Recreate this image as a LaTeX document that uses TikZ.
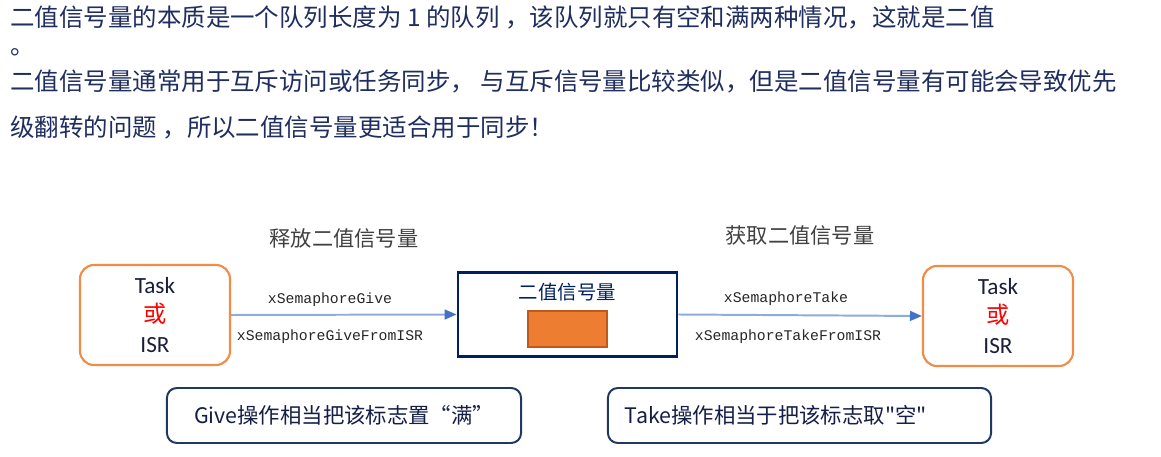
\documentclass[tikz,border=0pt]{standalone}
\usepackage{fontspec}
\setmainfont{Noto Sans CJK SC}
\newfontfamily\notefont{Noto Sans CJK SC}
\newfontfamily\apifont{Liberation Mono}
\newfontfamily\latinfont{Carlito}
\usetikzlibrary{arrows.meta, positioning}

\definecolor{introtxt}{RGB}{31,45,95}
\definecolor{headtxt}{RGB}{64,64,64}
\definecolor{tasktxt}{RGB}{25,30,60}
\definecolor{taskedge}{RGB}{240,140,70}
\definecolor{semedge}{RGB}{0,32,96}
\definecolor{tokenfill}{RGB}{237,125,49}
\definecolor{tokenedge}{RGB}{190,90,30}
\definecolor{linkline}{RGB}{143,170,220}
\definecolor{linktip}{RGB}{68,114,196}
\definecolor{noteedge}{RGB}{31,56,100}
\definecolor{notetxt}{RGB}{20,30,70}

\begin{document}
\begin{tikzpicture}[
  x=0.025cm, y=-0.025cm,
  intro/.style={
    anchor=base west,
    inner sep=0pt,
    text=introtxt,
    font=\fontsize{17.4}{20}\selectfont
  },
  header/.style={
    inner sep=0pt,
    text=headtxt,
    font=\fontsize{15.1}{18}\selectfont
  },
  taskbox/.style={
    draw=taskedge,
    line width=1.5pt,
    rounded corners=10pt,
    minimum width=3.75cm,
    minimum height=2.5cm,
    inner sep=0pt,
    align=center,
    text=tasktxt,
    font=\latinfont\fontsize{16.5}{21.3}\selectfont
  },
  sembox/.style={
    draw=semedge,
    line width=2pt,
    minimum width=5.475cm,
    minimum height=2.1cm,
    inner sep=0pt
  },
  semlabel/.style={
    inner sep=0pt,
    text=semedge,
    font=\fontsize{13.8}{16}\selectfont
  },
  token/.style={
    draw=tokenedge,
    fill=tokenfill,
    line width=1.5pt,
    minimum width=1.975cm,
    minimum height=0.9cm,
    inner sep=0pt
  },
  link/.style={
    -{Triangle[length=8.5pt, width=7pt, color=linktip]},
    line width=1.4pt,
    draw=linkline
  },
  apiname/.style={
    inner sep=0pt,
    text=black!85,
    font=\apifont\fontsize{10.5}{12}\selectfont
  },
  flagbox/.style={
    draw=noteedge,
    line width=1.4pt,
    rounded corners=7pt,
    minimum height=1.375cm,
    inner sep=0pt,
    text=notetxt,
    font=\notefont\fontsize{15.2}{18}\selectfont
  }
]
  \useasboundingbox (0,0) rectangle (1161,457);

  % explanation
  \node[intro] (line1) at (10,27) {二值信号量的本质是一个队列长度为 1 的队列 ，该队列就只有空和满两种情况，这就是二值};
  \node[intro] (line2) at (10,55) {。};
  \node[intro] (line3) at (10,91) {二值信号量通常用于互斥访问或任务同步， 与互斥信号量比较类似，但是二值信号量有可能会导致优先};
  \node[intro] (line4) at (10,137) {级翻转的问题 ，所以二值信号量更适合用于同步！};

  % the three blocks
  \node[taskbox] (giver) at (155,315) {Task\\{\rmfamily\color{red}或}\\ISR};
  \node[sembox] (sem) at (567.5,314.5) {};
  \node[semlabel] (semname) at (567.5,292) {二值信号量};
  \node[token] (flag) at (567.5,329) {};
  \node[taskbox] (taker) at (998,316) {Task\\{\rmfamily\color{red}或}\\ISR};

  \node[header] (givehead) at (344,238) {释放二值信号量};
  \node[header] (takehead) at (800,235) {获取二值信号量};

  \draw[link] (giver.east) -- (sem.west);
  \draw[link] (sem.east) -- (taker.west);

  \node[apiname] (give) at (330,300) {xSemaphoreGive};
  \node[apiname] (giveisr) at (330,337) {xSemaphoreGiveFromISR};
  \node[apiname] (take) at (786,299) {xSemaphoreTake};
  \node[apiname] (takeisr) at (788,337) {xSemaphoreTakeFromISR};

  % notes
  \node[flagbox, minimum width=8.85cm] (givenote) at (344,415.5) {Give操作相当把该标志置“满”};
  \node[flagbox, minimum width=9.575cm, inner xsep=0.425cm, text width=8.725cm, align=left] (takenote) at (799.5,415.5) {Take操作相当于把该标志取"空"};
\end{tikzpicture}
\end{document}
